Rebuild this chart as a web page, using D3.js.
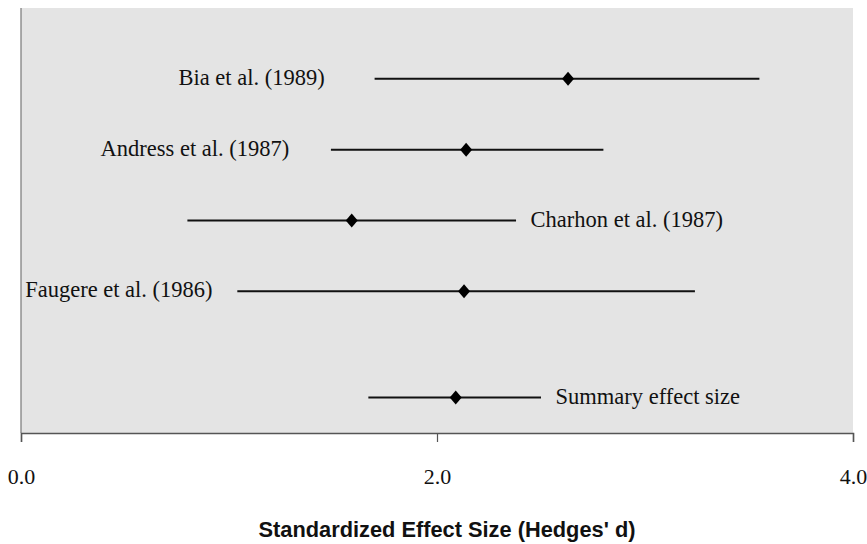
<!DOCTYPE html>
<html>
<head>
<meta charset="utf-8">
<script src="https://cdn.jsdelivr.net/npm/d3@7"></script>
<style>
  html, body { margin: 0; padding: 0; background: #ffffff; }
  svg { display: block; }
</style>
</head>
<body>
<script>
// ---- data ----
const studies   = ["Bia et al. (1989)", "Andress et al. (1987)", "Charhon et al. (1987)", "Faugere et al. (1986)", "Summary effect size"];
const rowPos    = [5, 4, 3, 2, 0.5];
const effect    = [2.63, 2.14, 1.59, 2.13, 2.09];
const ciLow     = [1.70, 1.49, 0.80, 1.04, 1.67];
const ciHigh    = [3.55, 2.80, 2.38, 3.24, 2.50];
const labelAt   = [1.46, 1.29, 2.45, 0.02, 2.57];
const labelSide = ["end", "end", "start", "start", "start"];
const xTicks    = [0, 2, 4];
const xTickLabels = ["0.0", "2.0", "4.0"];
const xTitle    = "Standardized Effect Size (Hedges' d)";

// ---- layout ----
const W = 867, H = 544;
const mLeft = 21, mRight = 853, mTop = 8, mBottom = 433;

const svg = d3.select("body").append("svg").attr("width", W).attr("height", H);

const x = d3.scaleLinear().domain([0, 4]).range([mLeft, mRight]);
const y = d3.scaleLinear().domain([0, 6]).range([mBottom, mTop]);

// plot background
svg.append("rect")
  .attr("x", mLeft).attr("y", mTop)
  .attr("width", mRight - mLeft).attr("height", mBottom - mTop)
  .attr("fill", "#e4e4e4");

// left edge line
svg.append("line")
  .attr("x1", mLeft).attr("x2", mLeft).attr("y1", mTop).attr("y2", mBottom)
  .attr("stroke", "#777").attr("stroke-width", 1.2);

// x axis
const axis = d3.axisBottom(x).tickValues(xTicks).tickSize(9).tickPadding(26)
  .tickFormat((d, i) => xTickLabels[i]);
const gx = svg.append("g").attr("transform", `translate(0,${mBottom})`).call(axis);
gx.select(".domain").attr("stroke", "#555").attr("stroke-width", 1.5);
gx.selectAll(".tick line").attr("stroke", "#555").attr("stroke-width", 1.2);
gx.selectAll(".tick text")
  .attr("font-family", "'Liberation Serif', 'Times New Roman', serif")
  .attr("font-size", 22).attr("fill", "#111");

// axis title
svg.append("text")
  .attr("x", x(2) + 10).attr("y", 537)
  .attr("text-anchor", "middle")
  .attr("font-family", "'Liberation Sans', Arial, sans-serif")
  .attr("font-weight", "bold").attr("font-size", 21.8).attr("fill", "#111")
  .text(xTitle);

const rows = studies.map((s, i) => ({
  name: s, pos: rowPos[i], eff: effect[i], lo: ciLow[i], hi: ciHigh[i],
  lab: labelAt[i], side: labelSide[i]
}));

// CI lines
svg.append("g").selectAll("line").data(rows).join("line")
  .attr("x1", d => x(d.lo)).attr("x2", d => x(d.hi))
  .attr("y1", d => y(d.pos)).attr("y2", d => y(d.pos))
  .attr("stroke", "#111").attr("stroke-width", 2);

// diamonds
svg.append("g").selectAll("path").data(rows).join("path")
  .attr("transform", d => `translate(${x(d.eff)},${y(d.pos)})`)
  .attr("d", "M0,-7L6,0L0,7L-6,0Z")
  .attr("fill", "#000");

// labels
svg.append("g").selectAll("text").data(rows).join("text")
  .attr("x", d => x(d.lab)).attr("y", d => y(d.pos) + 6)
  .attr("text-anchor", d => d.side)
  .attr("font-family", "'Liberation Serif', 'Times New Roman', serif")
  .attr("font-size", 22.5).attr("fill", "#111")
  .text(d => d.name);
</script>
</body>
</html>
